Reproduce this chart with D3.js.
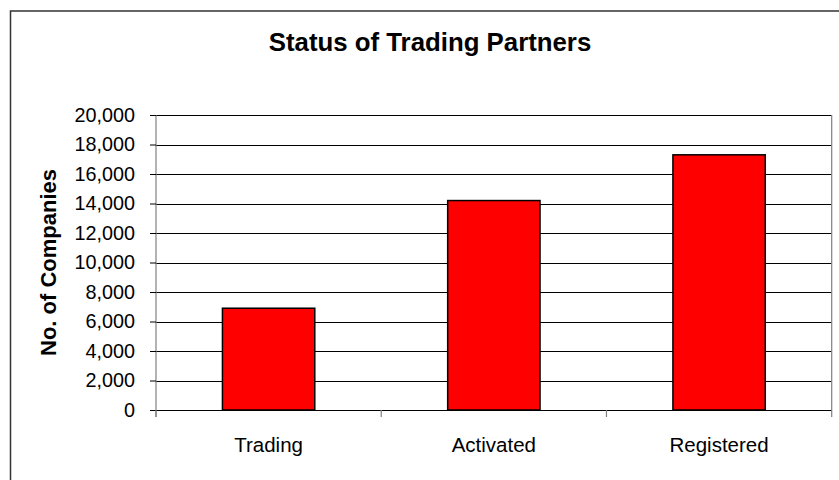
<!DOCTYPE html>
<html>
<head>
<meta charset="utf-8">
<script src="https://cdn.jsdelivr.net/npm/d3@7/dist/d3.min.js"></script>
<style>
  html, body { margin: 0; padding: 0; background: #fff; }
  svg { display: block; font-family: Arial, "Liberation Sans", sans-serif; }
</style>
</head>
<body>
<svg id="chart" width="839" height="480"></svg>
<script>
// Status of trading partners: number of companies per status
const categories = ["Trading", "Activated", "Registered"];
const companies = [6900, 14200, 17300];
const yTicks = [0, 2000, 4000, 6000, 8000, 10000, 12000, 14000, 16000, 18000, 20000];
const chartTitle = "Status of Trading Partners";
const yTitle = "No. of Companies";

const svg = d3.select("#chart");
const W = 839, H = 480;
const plot = { left: 156, right: 831.7, top: 115, bottom: 410 };

// outer chart frame (runs off the right and bottom edges)
svg.append("rect")
  .attr("x", 10.5).attr("y", 11)
  .attr("width", W).attr("height", H)
  .attr("fill", "#fff").attr("stroke", "#333").attr("stroke-width", 1.5);

const x = d3.scaleBand()
  .domain(categories)
  .range([plot.left, plot.right])
  .paddingInner(0.59)
  .paddingOuter(0.295);

const y = d3.scaleLinear()
  .domain([0, 20000])
  .range([plot.bottom, plot.top]);

// horizontal gridlines
svg.append("g")
  .selectAll("line")
  .data(yTicks)
  .join("line")
  .attr("x1", plot.left).attr("x2", plot.right)
  .attr("y1", d => Math.round(y(d)) + 0.5).attr("y2", d => Math.round(y(d)) + 0.5)
  .attr("stroke", "#000").attr("stroke-width", 1);

// plot area right border
svg.append("line")
  .attr("x1", plot.right).attr("x2", plot.right)
  .attr("y1", plot.top).attr("y2", plot.bottom)
  .attr("stroke", "#808080").attr("stroke-width", 1.2);

// bars
svg.append("g")
  .selectAll("rect")
  .data(categories.map((c, i) => ({ c, v: companies[i] })))
  .join("rect")
  .attr("x", d => x(d.c))
  .attr("y", d => y(d.v))
  .attr("width", x.bandwidth())
  .attr("height", d => y(0) - y(d.v))
  .attr("fill", "#ff0000")
  .attr("stroke", "#000").attr("stroke-width", 1.5);

// y axis
const yAxis = d3.axisLeft(y)
  .tickValues(yTicks)
  .tickFormat(d3.format(","))
  .tickSize(6)
  .tickPadding(15);
const gy = svg.append("g")
  .attr("transform", `translate(${plot.left},0)`)
  .call(yAxis);
gy.select(".domain").attr("stroke", "#808080").attr("stroke-width", 1.2)
  .attr("d", `M0,${plot.top}V${plot.bottom + 7}`);
gy.selectAll(".tick line").attr("stroke", "#000");
gy.selectAll(".tick text")
  .attr("font-size", 19.8).attr("fill", "#000")
  .attr("font-family", "Arial, 'Liberation Sans', sans-serif");

// x axis: category boundaries as ticks, labels centred under bars
const bounds = d3.range(categories.length + 1).map(i => plot.left + i * (plot.right - plot.left) / categories.length);
const gx = svg.append("g");
gx.append("line")
  .attr("x1", plot.left).attr("x2", plot.right)
  .attr("y1", y(0) + 0.5).attr("y2", y(0) + 0.5)
  .attr("stroke", "#000").attr("stroke-width", 1.2);
gx.selectAll("line.tk")
  .data(bounds)
  .join("line").attr("class", "tk")
  .attr("x1", d => d).attr("x2", d => d)
  .attr("y1", y(0)).attr("y2", y(0) + 7)
  .attr("stroke", "#808080").attr("stroke-width", 1.2);
gx.selectAll("text")
  .data(categories)
  .join("text")
  .attr("x", d => x(d) + x.bandwidth() / 2)
  .attr("y", 452)
  .attr("text-anchor", "middle")
  .attr("font-size", 20.5)
  .attr("fill", "#000")
  .text(d => d);

// title
svg.append("text")
  .attr("x", 430).attr("y", 51)
  .attr("text-anchor", "middle")
  .attr("font-size", 25.8).attr("font-weight", "bold")
  .text(chartTitle);

// y axis title
svg.append("text")
  .attr("transform", `translate(56,262.5) rotate(-90)`)
  .attr("text-anchor", "middle")
  .attr("font-size", 22).attr("font-weight", "bold")
  .text(yTitle);
</script>
</body>
</html>
